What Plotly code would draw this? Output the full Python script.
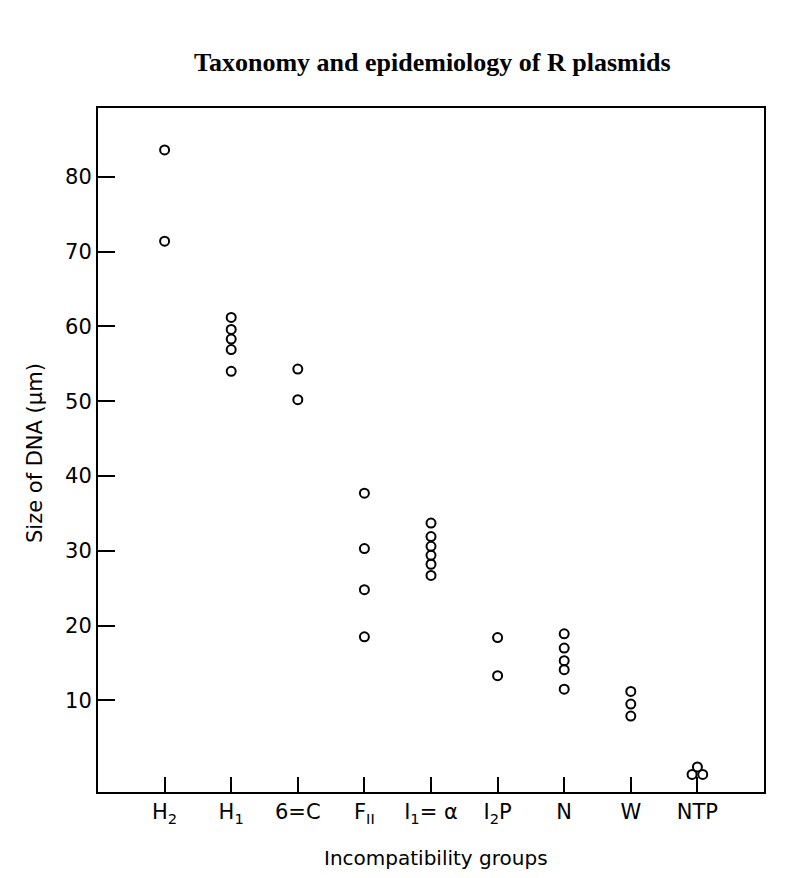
import plotly.graph_objects as go

# ---- data ----
groups = ["H<sub>2</sub>", "H<sub>1</sub>", "6=C", "F<sub>II</sub>", "I<sub>1</sub>= α",
          "I<sub>2</sub>P", "N", "W", "NTP"]
h2 = [83.6, 71.4]
h1 = [61.2, 59.6, 58.3, 56.9, 54.0]
c6 = [54.3, 50.2]
f2 = [37.7, 30.3, 24.8, 18.5]
i1 = [33.7, 31.9, 30.6, 29.4, 28.2, 26.7]
i2p = [18.4, 13.3]
n_grp = [18.9, 17.0, 15.3, 14.1, 11.5]
w_grp = [11.2, 9.5, 7.9]
ntp = [1.1, 0.1, 0.1]
ntp_shift = [0.0, -0.08, 0.08]   # small horizontal spread of the NTP cluster
y_ticks = [10, 20, 30, 40, 50, 60, 70, 80]

series = [h2, h1, c6, f2, i1, i2p, n_grp, w_grp, ntp]

xs, ys = [], []
for idx, vals in enumerate(series):
    for k, v in enumerate(vals):
        shift = ntp_shift[k] if idx == len(series) - 1 else 0.0
        xs.append(idx + shift)
        ys.append(v)

fig = go.Figure()
fig.add_trace(go.Scatter(
    x=xs, y=ys, mode="markers",
    marker=dict(symbol="circle-open", size=9, color="black",
                line=dict(width=2, color="black")),
    showlegend=False, hoverinfo="skip"))

tick_font = dict(family="DejaVu Sans", size=21, color="black")

# plot area on screen: left 97, right 763, top 107, bottom 791 (page adds ~7px offset)
fig.update_layout(
    width=800, height=878,
    paper_bgcolor="white", plot_bgcolor="white",
    margin=dict(l=90, r=44, t=100, b=94),
    xaxis=dict(range=[-1, 9], tickmode="array",
               tickvals=list(range(len(groups))), ticktext=groups,
               ticks="inside", ticklen=15, tickwidth=2, tickcolor="black",
               showline=True, linewidth=2, linecolor="black", mirror=True,
               showgrid=False, zeroline=False, tickfont=tick_font),
    yaxis=dict(range=[-2.25, 89.2], tickmode="array", tickvals=y_ticks,
               ticks="inside", ticklen=17, tickwidth=2, tickcolor="black",
               showline=True, linewidth=2, linecolor="black", mirror=True,
               showgrid=False, zeroline=False, tickfont=tick_font),
    annotations=[
        dict(text="<b>Taxonomy and epidemiology of R plasmids</b>",
             xref="paper", yref="paper", x=(431 - 97) / 666, y=1 + (107 - 62) / 684,
             xanchor="center", yanchor="middle", showarrow=False,
             font=dict(family="Liberation Serif", size=26, color="black")),
        dict(text="Size of DNA (μm)", textangle=-90,
             xref="paper", yref="paper", x=(34 - 97) / 666, y=(791 - 452) / 684,
             xanchor="center", yanchor="middle", showarrow=False,
             font=dict(family="DejaVu Sans", size=21, color="black")),
        dict(text="Incompatibility groups",
             xref="paper", yref="paper", x=(435 - 97) / 666, y=-(857 - 791) / 684,
             xanchor="center", yanchor="middle", showarrow=False,
             font=dict(family="DejaVu Sans", size=20, color="black")),
    ],
)

fig.write_html("out.html")
